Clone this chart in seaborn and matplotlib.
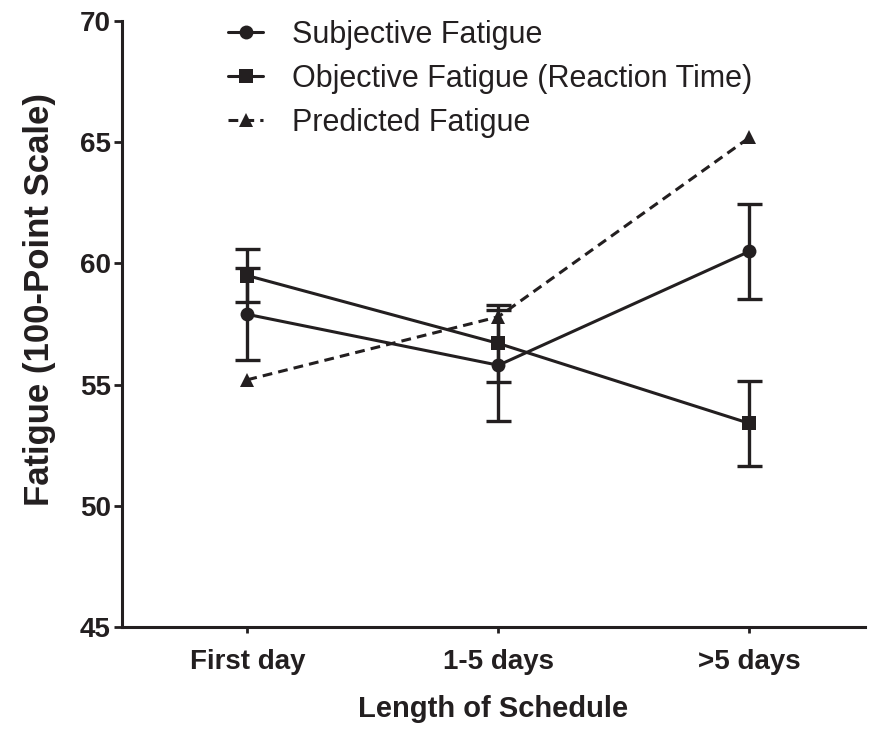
import matplotlib
matplotlib.use("Agg")
import matplotlib.pyplot as plt
import seaborn as sns
import pandas as pd
import numpy as np

categories = ["First day", "1-5 days", ">5 days"]
series_names = ["Subjective Fatigue", "Objective Fatigue (Reaction Time)", "Predicted Fatigue"]
subjective = [57.9, 55.8, 60.5]
subjective_err = [1.9, 2.3, 1.95]
objective = [59.5, 56.7, 53.4]
objective_err = [1.1, 1.6, 1.75]
predicted = [55.2, 57.8, 65.2]

sns.set_style("ticks")
plt.rcParams['font.family'] = ['Liberation Sans', 'DejaVu Sans']

rows = []
for name, vals in zip(series_names, [subjective, objective, predicted]):
    for i, v in enumerate(vals):
        rows.append({"x": i, "value": v, "series": name})
df = pd.DataFrame(rows)

fig = plt.figure(figsize=(8.89, 7.29), dpi=100)
ax = fig.add_axes([0.137, 0.14, 0.836, 0.831])

color = "#231f20"
pos = np.arange(len(categories))
for vals, errs in [(subjective, subjective_err), (objective, objective_err)]:
    ax.errorbar(pos, vals, yerr=errs, fmt="none", ecolor=color, elinewidth=2.4,
                capsize=9, capthick=2.4, zorder=2)

sns.lineplot(data=df, x="x", y="value", hue="series", style="series",
             palette=[color, color, color],
             markers={series_names[0]: "o", series_names[1]: "s", series_names[2]: "^"},
             dashes={series_names[0]: "", series_names[1]: "", series_names[2]: (3.2, 2.0)},
             markersize=10, linewidth=2.2, markeredgewidth=0, ax=ax, zorder=3)

ax.set_xlim(-0.5, 2.46)
ax.set_ylim(45, 70)
ax.set_yticks([45, 50, 55, 60, 65, 70])
ax.set_xticks(pos)
ax.set_xticklabels(categories)
for lbl in ax.get_xticklabels() + ax.get_yticklabels():
    lbl.set_fontweight("bold")
    lbl.set_fontsize(20)
    lbl.set_color(color)
ax.tick_params(axis="y", direction="out", length=6, width=2, color=color, pad=2)
ax.tick_params(axis="x", direction="out", length=4, width=2, color=color, pad=12)
for s in ["left", "bottom"]:
    ax.spines[s].set_linewidth(2.2)
    ax.spines[s].set_color(color)
sns.despine(ax=ax)

ax.set_xlabel("Length of Schedule", fontsize=21, fontweight="bold", labelpad=14, color=color)
ax.set_ylabel("Fatigue (100-Point Scale)", fontsize=25, fontweight="bold", color=color)
ax.yaxis.set_label_coords(-0.089, 0.541)

leg = ax.legend(title=None, loc="upper left", bbox_to_anchor=(0.143, 1.002), frameon=False,
                fontsize=22, handlelength=1.15, handletextpad=0.95, labelspacing=0.46,
                borderaxespad=0, borderpad=0)
for t in leg.get_texts():
    t.set_color(color)

fig.savefig("out.png", dpi=100)
